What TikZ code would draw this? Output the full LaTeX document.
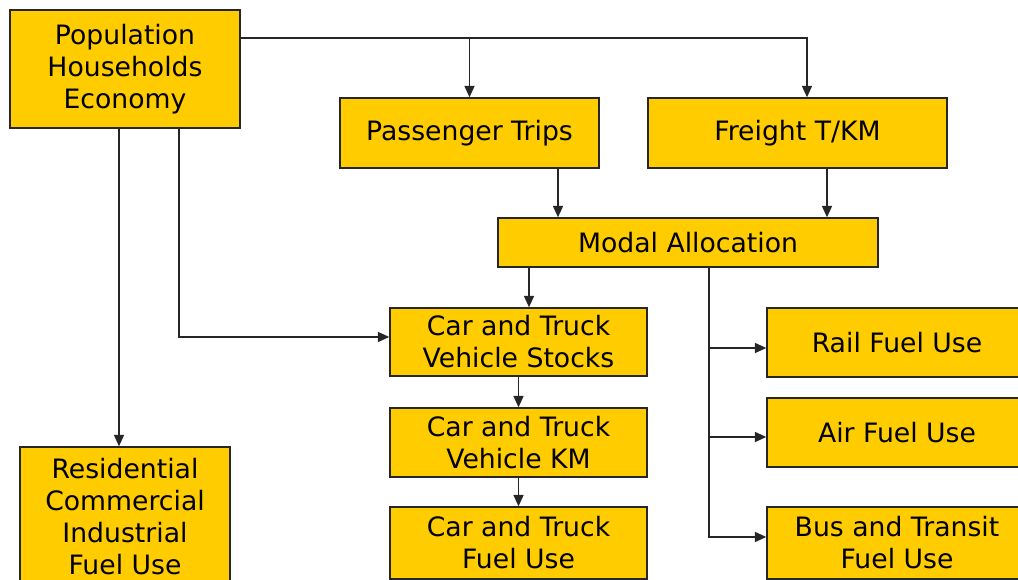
\documentclass[tikz,border=0pt]{standalone}
\usepackage{fontspec}
\setmainfont{DejaVu Sans}
\usetikzlibrary{arrows.meta,calc}
\definecolor{gold}{HTML}{FFCC00}
\begin{document}
\begin{tikzpicture}[x=0.75pt, y=-0.75pt,
    box/.style={draw=black!85, line width=1.1pt, fill=gold, inner sep=0pt, align=center,
        font=\fontsize{20}{24}\selectfont},
    wh/.style 2 args={minimum width=#1*0.75pt, minimum height=#2*0.75pt},
    arr/.style={-{Triangle[length=8.5pt,width=7.5pt]}, line width=1.1pt, black!85}]
    \useasboundingbox (0,0) rectangle (1018,580);
    \clip (0,0) rectangle (1018,580);
    % boxes
    \node[box, wh={230}{118}] (pop) at (125,69) {Population\\Households\\Economy};
    \node[box, wh={259}{70}] (pass) at (469.5,133) {Passenger Trips};
    \node[box, wh={299}{70}] (frt) at (797.5,133) {Freight T/KM};
    \node[box, wh={380}{49}] (modal) at (688,242.5) {Modal Allocation};
    \node[box, wh={257}{68}] (cstock) at (518.5,342) {Car and Truck\\Vehicle Stocks};
    \node[box, wh={257}{69}] (ckm) at (518.5,442.5) {Car and Truck\\Vehicle KM};
    \node[box, wh={257}{72}] (cfuel) at (518.5,543) {Car and Truck\\Fuel Use};
    \node[box, wh={260}{69}] (rail) at (897,342.5) {Rail Fuel Use};
    \node[box, wh={260}{69}] (air) at (897,432.5) {Air Fuel Use};
    \node[box, wh={260}{72}] (bus) at (897,543) {Bus and Transit\\Fuel Use};
    \node[box, wh={210}{140}] (res) at (125,517) {Residential\\Commercial\\Industrial\\Fuel Use};
    % connectors
    \draw[arr] ($(pop.east)+(0,-31)$) coordinate (tap) -| ($(frt.north)+(9.5,0)$);
    \draw[arr] (tap -| pass.north) -- (pass.north);
    \draw[arr] ($(pop.south)+(-6,0)$) coordinate (p1) -- (p1 |- res.north);
    \draw[arr] ($(pop.south)+(54,0)$) |- ($(cstock.west)+(0,-5)$);
    \draw[arr] ($(pass.south)+(88.5,0)$) coordinate (p2) -- (p2 |- modal.north);
    \draw[arr] ($(frt.south)+(29.5,0)$) coordinate (p3) -- (p3 |- modal.north);
    \draw[arr] ($(modal.south)+(-159,0)$) coordinate (p4) -- (p4 |- cstock.north);
    \draw[arr] ($(modal.south)+(21,0)$) coordinate (m) |- ($(bus.west)+(0,-6)$);
    \draw[arr] (m |- rail.west) ++(0,5.5) -- ($(rail.west)+(0,5.5)$);
    \draw[arr] (m |- air.west) ++(0,4.5) -- ($(air.west)+(0,4.5)$);
    \draw[arr] (cstock.south) -- (ckm.north);
    \draw[arr] (ckm.south) -- (cfuel.north);
\end{tikzpicture}
\end{document}
